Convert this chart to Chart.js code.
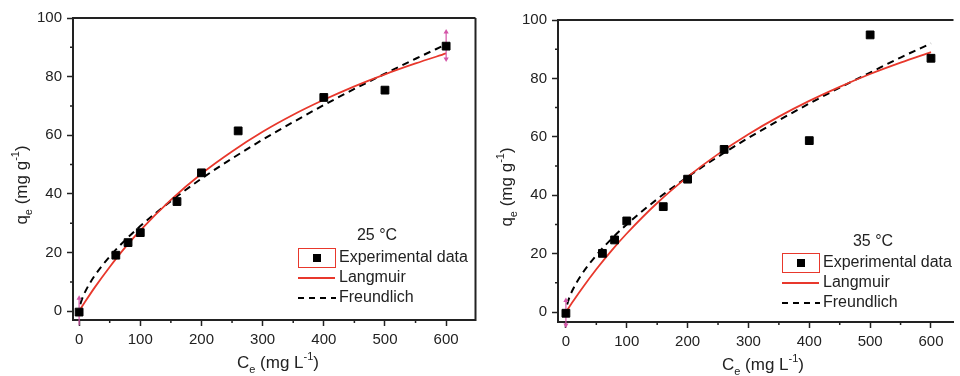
<!DOCTYPE html>
<html>
<head>
<meta charset="utf-8">
<script src="https://cdn.jsdelivr.net/npm/chart.js@4"></script>
<style>
  html, body { margin: 0; padding: 0; background: #fff; }
  #wrap { position: relative; width: 960px; height: 376px; overflow: hidden; }
  #c1 { position: absolute; left: 0; top: 0; }
  #c2 { position: absolute; left: 482px; top: 0; }
</style>
</head>
<body>
<div id="wrap">
  <canvas id="c1" width="482" height="376"></canvas>
  <canvas id="c2" width="478" height="376"></canvas>
</div>
<script>
// experimental points (Ce in mg/L, qe in mg/g)
const ceExp = [0, 60, 80, 100, 160, 200, 260, 400, 500, 600];
const qe25 = [-0.3, 19.1, 23.4, 26.8, 37.4, 47.2, 61.5, 72.9, 75.4, 90.4];
const qe35 = [-0.4, 20.1, 24.7, 31.2, 36.1, 45.5, 55.7, 58.7, 94.9, 86.9];

// fitted curves
const ceFit = [2, 5, 10, 25, 50, 75, 100, 150, 200, 250, 300, 350, 400, 450, 500, 550, 600];
const langmuir25 = [0.67, 1.66, 3.28, 7.96, 15.1, 21.7, 27.6, 38.0, 46.9, 54.5, 61.2, 67.0, 72.1, 76.7, 80.8, 84.5, 87.9];
const freundlich25 = [2.39, 4.29, 6.68, 11.99, 18.65, 24.16, 29.02, 37.58, 45.2, 52.07, 58.5, 64.5, 70.3, 75.8, 81.0, 86.1, 91.0];
const langmuir35 = [0.64, 1.59, 3.16, 7.67, 14.66, 21.05, 26.9, 37.34, 46.3, 54.08, 60.9, 66.93, 72.3, 77.12, 81.5, 85.38, 89.0];
const freundlich35 = [2.6, 4.62, 7.12, 12.62, 19.46, 25.07, 30.0, 38.67, 46.28, 53.2, 59.65, 65.66, 71.39, 76.84, 82.0, 87.15, 92.0];

// pink double arrows (x, low, high)
const arrows25 = [[0, -4.8, 4.4], [600, 86.0, 95.2]];
const arrows35 = [[0, -4.4, 4.0]];

// tick positions (major ones get a label)
const xTicks = [0, 50, 100, 150, 200, 250, 300, 350, 400, 450, 500, 550, 600];
const xLabels = [0, 100, 200, 300, 400, 500, 600];
const yTicks = [0, 10, 20, 30, 40, 50, 60, 70, 80, 90, 100];
const yLabels = [0, 20, 40, 60, 80, 100];

const FONT = '"Liberation Sans", Arial, sans-serif';
const INK = '#222';
const RED = '#e8382c';
const PINK = '#d456a8';

function pts(xs, ys) {
  return xs.map((x, i) => ({ x: x, y: ys[i] }));
}

function richText(ctx, parts, cx, cy) {
  let w = 0;
  parts.forEach(p => {
    ctx.font = (p[1] === 'n' ? '17px ' : '11px ') + FONT;
    w += ctx.measureText(p[0]).width;
  });
  let x = cx - w / 2;
  ctx.textAlign = 'left';
  ctx.textBaseline = 'middle';
  parts.forEach(p => {
    ctx.font = (p[1] === 'n' ? '17px ' : '11px ') + FONT;
    const dy = p[1] === 'sub' ? 7 : p[1] === 'sup' ? -6 : 0;
    ctx.fillText(p[0], x, cy + dy);
    x += ctx.measureText(p[0]).width;
  });
}

const decor = {
  id: 'decor',
  afterDraw(chart, args, o) {
    const ctx = chart.ctx;
    const a = chart.chartArea;
    const sx = chart.scales.x, sy = chart.scales.y;
    ctx.save();
    // frame top / right
    ctx.strokeStyle = INK;
    ctx.lineWidth = 2;
    ctx.beginPath();
    ctx.moveTo(a.left - 1, a.top);
    ctx.lineTo(a.right, a.top);
    if (o.rightBorder) {
      ctx.moveTo(a.right, a.top);
      ctx.lineTo(a.right, a.bottom + 1);
    }
    ctx.stroke();

    // short minor ticks
    ctx.lineWidth = 1.5;
    ctx.beginPath();
    xTicks.filter(v => !xLabels.includes(v)).forEach(v => {
      const px = sx.getPixelForValue(v);
      ctx.moveTo(px, a.bottom);
      ctx.lineTo(px, a.bottom + 3);
    });
    yTicks.filter(v => !yLabels.includes(v)).forEach(v => {
      const py = sy.getPixelForValue(v);
      ctx.moveTo(a.left, py);
      ctx.lineTo(a.left - 3, py);
    });
    ctx.stroke();

    // axis titles
    ctx.fillStyle = INK;
    richText(ctx, [['C', 'n'], ['e', 'sub'], [' (mg L', 'n'], ['-1', 'sup'], [')', 'n']], o.xTitle[0], o.xTitle[1]);
    ctx.save();
    ctx.translate(o.yTitle[0], o.yTitle[1]);
    ctx.rotate(-Math.PI / 2);
    richText(ctx, [['q', 'n'], ['e', 'sub'], [' (mg g', 'n'], ['-1', 'sup'], [')', 'n']], 0, 0);
    ctx.restore();

    // legend
    const L = o.legend;
    ctx.font = '16px ' + FONT;
    ctx.textAlign = 'center';
    ctx.textBaseline = 'middle';
    ctx.fillText(L.title, L.titleX, L.titleY);
    ctx.textAlign = 'left';
    const labels = ['Experimental data', 'Langmuir', 'Freundlich'];
    labels.forEach((t, i) => ctx.fillText(t, L.x + 41, L.y + i * 20));
    // row 0: boxed square
    ctx.strokeStyle = RED;
    ctx.lineWidth = 1;
    ctx.strokeRect(L.x + 0.5, L.y - 9.5, 37, 19);
    ctx.fillStyle = '#000';
    ctx.fillRect(L.x + 15, L.y - 4, 8, 8);
    // row 1: red line
    ctx.strokeStyle = RED;
    ctx.lineWidth = 1.8;
    ctx.beginPath();
    ctx.moveTo(L.x, L.y + 20);
    ctx.lineTo(L.x + 37, L.y + 20);
    ctx.stroke();
    // row 2: dashed line
    ctx.strokeStyle = '#000';
    ctx.lineWidth = 2;
    ctx.setLineDash([6, 5]);
    ctx.beginPath();
    ctx.moveTo(L.x, L.y + 40);
    ctx.lineTo(L.x + 38, L.y + 40);
    ctx.stroke();
    ctx.restore();
  }
};

function arrowSets(list) {
  return list.map(r => ({
    type: 'scatter',
    data: [{ x: r[0], y: r[1] }, { x: r[0], y: r[2] }],
    showLine: true,
    borderColor: PINK,
    borderWidth: 1.2,
    pointStyle: 'triangle',
    pointRadius: 3,
    pointRotation: [180, 0],
    pointBackgroundColor: PINK,
    pointBorderColor: PINK,
    pointBorderWidth: 0,
    clip: false
  }));
}

function axis(vals, labels, extra) {
  return Object.assign({
    type: 'linear',
    afterBuildTicks(s) { s.ticks = vals.map(v => ({ value: v })); },
    ticks: {
      autoSkip: false,
      maxRotation: 0,
      padding: 5,
      color: INK,
      font: { family: FONT, size: 15 },
      callback: v => (labels.includes(v) ? v : '')
    },
    grid: {
      drawOnChartArea: false,
      drawTicks: true,
      tickLength: 6,
      tickWidth: 1.5,
      tickColor: ctx => (ctx.tick && labels.includes(ctx.tick.value) ? INK : 'rgba(0,0,0,0)')
    },
    border: { display: true, color: INK, width: 2 }
  }, extra);
}

function makeChart(id, c) {
  new Chart(document.getElementById(id), {
    type: 'scatter',
    data: {
      datasets: [
        {
          data: pts(ceExp, c.qe),
          pointStyle: 'rect',
          pointRadius: 5.5,
          pointBackgroundColor: '#000',
          pointBorderColor: '#000',
          pointBorderWidth: 1
        },
        ...arrowSets(c.arrows),
        {
          data: pts(ceFit, c.langmuir),
          showLine: true,
          pointRadius: 0,
          borderColor: RED,
          borderWidth: 1.8,
          cubicInterpolationMode: 'monotone'
        },
        {
          data: pts(ceFit, c.freundlich),
          showLine: true,
          pointRadius: 0,
          borderColor: '#000',
          borderWidth: 2,
          borderDash: [7, 5],
          cubicInterpolationMode: 'monotone'
        }
      ]
    },
    options: {
      responsive: false,
      animation: false,
      events: [],
      layout: { padding: { top: c.top, right: c.right, left: 0, bottom: 0 } },
      plugins: {
        legend: { display: false },
        tooltip: { enabled: false },
        decor: c.decor
      },
      scales: {
        x: axis(xTicks, xLabels, {
          min: c.xMin, max: c.xMax, position: 'bottom',
          afterFit(s) { s.height = c.xh; }
        }),
        y: axis(yTicks, yLabels, {
          min: c.yMin, max: 100, position: 'left',
          afterFit(s) { s.width = c.yw; }
        })
      }
    },
    plugins: [decor]
  });
}

makeChart('c1', {
  qe: qe25, langmuir: langmuir25, freundlich: freundlich25, arrows: arrows25,
  xMin: -10, xMax: 648, yMin: -3, top: 18, right: 1, xh: 56, yw: 73,
  decor: {
    rightBorder: true,
    xTitle: [278, 363], yTitle: [22, 185],
    legend: { title: '25 °C', titleX: 377, titleY: 236, x: 298, y: 258 }
  }
});

makeChart('c2', {
  qe: qe35, langmuir: langmuir35, freundlich: freundlich35, arrows: arrows35,
  xMin: -13, xMax: 637, yMin: -3.4, top: 20, right: 0, xh: 54, yw: 76,
  decor: {
    rightBorder: false,
    xTitle: [281, 365], yTitle: [25, 187],
    legend: { title: '35 °C', titleX: 391, titleY: 242, x: 300, y: 263 }
  }
});
</script>
</body>
</html>
